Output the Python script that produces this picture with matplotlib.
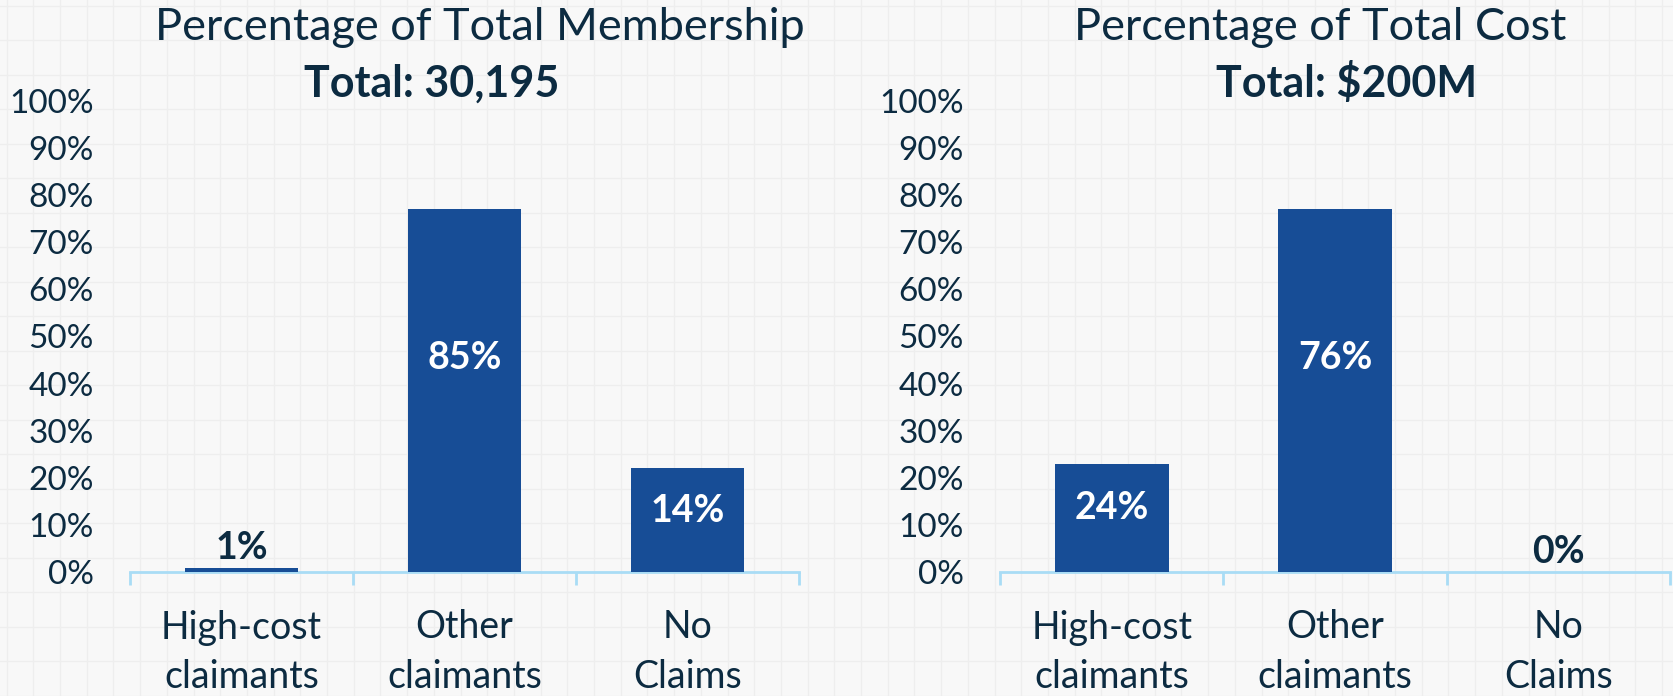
import numpy as np
import matplotlib
matplotlib.use('Agg')
import matplotlib.pyplot as plt

# data
categories = ['High-cost\nclaimants', 'Other\nclaimants', 'No\nClaims']
member_heights = [0.85, 77.0, 22.1]
member_labels = ['1%', '85%', '14%']
cost_heights = [22.9, 77.0, 0.0]
cost_labels = ['24%', '76%', '0%']
yticks = np.arange(0, 101, 10)

navy = '#0c2b41'
barblue = '#174d96'
axisblue = '#a9dcf5'

plt.rcParams['font.family'] = ['Lato', 'DejaVu Sans']

W, H = 1673, 696
fig = plt.figure(figsize=(W / 100, H / 100), dpi=100)
fig.patch.set_facecolor('#f8f8f8')

# faint graph-paper background
bg = fig.add_axes([0, 0, 1, 1], zorder=-5)
bg.set_xlim(0, W)
bg.set_ylim(H, 0)
bg.set_facecolor('#f8f8f8')
bg.set_xticks(np.arange(6.7, W, 26.7))
bg.set_yticks(np.arange(5.5, H, 34.5))
bg.grid(True, color='#eeeeee', lw=1)
bg.tick_params(length=0, labelbottom=False, labelleft=False)
for s in bg.spines.values():
    s.set_visible(False)


def draw(ax, heights, labels):
    x = np.arange(len(categories))
    ax.bar(x, heights, width=0.51, color=barblue, zorder=3)
    for xi, h, lab in zip(x, heights, labels):
        if h > 10:
            ax.text(xi, h * 0.59, lab, ha='center', va='center', color='white',
                    fontsize=27, fontweight='bold', zorder=4)
        else:
            ax.text(xi, h + 4.3, lab, ha='center', va='center', color=navy,
                    fontsize=27, fontweight='bold', zorder=4)
    ax.set_xlim(-0.5, 2.5)
    ax.set_ylim(0, 100)
    ax.set_facecolor('none')
    ax.set_yticks(yticks)
    ax.set_yticklabels(['%d%%' % v for v in yticks])
    ax.set_xticks(x)
    ax.set_xticklabels(categories, linespacing=1.46)
    ax.set_xticks([-0.5, 0.5, 1.5, 2.5], minor=True)
    ax.tick_params(axis='y', length=0, pad=26, labelsize=24, labelcolor=navy)
    ax.tick_params(axis='x', which='major', length=0, pad=27, labelsize=27,
                   labelcolor=navy)
    ax.tick_params(axis='x', which='minor', length=9.4, width=2, color=axisblue)
    for s in ['top', 'left', 'right']:
        ax.spines[s].set_visible(False)
    ax.spines['bottom'].set_color(axisblue)
    ax.spines['bottom'].set_linewidth(2)


ax1 = fig.add_axes([130 / W, 1 - 572 / H, 669 / W, 471 / H])
draw(ax1, member_heights, member_labels)
ax2 = fig.add_axes([1000 / W, 1 - 572 / H, 670 / W, 471 / H])
draw(ax2, cost_heights, cost_labels)

fig.text(480 / W, 1 - 40 / H, 'Percentage of Total Membership', ha='center',
         va='baseline', fontsize=32.5, color=navy)
fig.text(432 / W, 1 - 97 / H, 'Total: 30,195', ha='center', va='baseline',
         fontsize=31, fontweight='bold', color=navy)
fig.text(1320 / W, 1 - 40 / H, 'Percentage of Total Cost', ha='center',
         va='baseline', fontsize=32.5, color=navy)
fig.text(1347 / W, 1 - 97 / H, 'Total: $200M', ha='center', va='baseline',
         fontsize=31, fontweight='bold', color=navy)

fig.savefig('out.png', dpi=100, facecolor=fig.get_facecolor())
